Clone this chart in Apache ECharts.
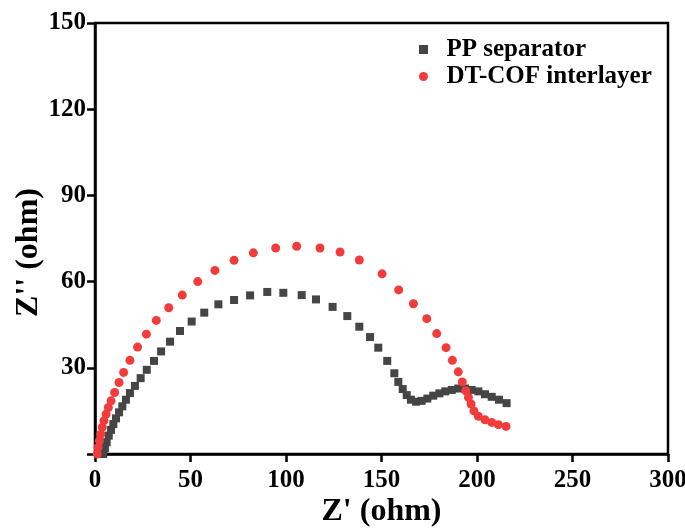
<!DOCTYPE html>
<html><head><meta charset="utf-8">
<script src="https://cdn.jsdelivr.net/npm/echarts@6/dist/echarts.min.js"></script>
<style>html,body{margin:0;padding:0;background:#fff}#c{width:685px;height:531px}</style>
</head><body><div id="c"></div>
<script>
var xTicks = [0, 50, 100, 150, 200, 250, 300];
var yTicks = [0, 30, 60, 90, 120, 150];
var ppX = [4.3,5.2,6.1,7.2,8.4,9.6,11.0,12.6,14.3,16.2,18.3,20.9,23.9,27.1,30.9,34.6,39.3,44.5,50.6,57.2,64.6,72.8,81.2,90.2,98.6,108.2,115.7,124.4,132.1,138.4,144.0,148.3,153.0,156.7,158.8,161.1,163.2,165.4,168.1,171.0,174.0,177.1,180.3,183.4,186.8,190.2,193.7,197.2,200.7,204.2,207.7,211.5,215.5];
var ppY = [0,2.0,4.1,6.4,8.4,10.4,12.4,14.5,16.6,18.9,21.2,23.7,26.4,29.3,32.4,35.7,39.1,42.8,46.1,49.2,52.1,53.6,55.2,56.4,56.1,55.3,53.8,51.2,48.0,44.3,40.7,37.0,32.4,28.1,25.1,22.6,20.5,18.9,18.2,18.5,19.3,20.3,21.1,21.8,22.3,22.8,22.8,22.3,21.8,20.8,19.9,18.9,17.7];
var dtX = [1.2,1.6,2.3,3.0,3.8,4.7,5.8,7.0,8.4,10.3,12.6,15.0,18.3,22.3,26.9,32.1,38.6,45.7,53.8,62.8,72.8,82.9,94.6,105.6,117.8,128.3,138.4,150.3,159.0,166.7,173.7,178.9,183.8,187.1,190.2,192.3,194.1,195.5,196.9,198.4,200.7,204.2,207.7,211.2,215.2];
var dtY = [0,2.3,4.6,6.9,9.3,11.6,13.9,16.2,18.5,21.4,24.9,28.4,32.6,37.2,41.7,46.5,50.9,55.3,60.0,63.9,67.4,70.0,71.7,72.3,71.7,70.3,67.5,62.7,57.1,52.3,47.1,41.9,37.0,32.6,28.6,25.1,22.0,19.7,17.4,15.0,13.1,11.9,11.0,10.2,9.6];
var seriesNames = ['PP separator', 'DT-COF interlayer'];

function pairs(xs, ys) { return xs.map(function (x, i) { return [x, ys[i]]; }); }

var font = 'Liberation Serif';
var sqIcon = 'path://M0,0L1,0L1,1L0,1Z';
var ciIcon = 'path://M1,0.5A0.5,0.5,0,1,1,0,0.5A0.5,0.5,0,1,1,1,0.5Z';
var chart = echarts.init(document.getElementById('c'), null, {renderer: 'canvas'});
chart.setOption({
  animation: false,
  backgroundColor: '#fff',
  grid: {left: 95, right: 17, top: 23, bottom: 77, show: true, borderColor: '#000', borderWidth: 2.5,
         backgroundColor: 'transparent', containLabel: false, outerBoundsMode: 'none'},
  legend: {
    orient: 'vertical', left: 414, top: 32, itemGap: 2, itemWidth: 36, itemHeight: 9,
    symbolKeepAspect: true,
    textStyle: {fontFamily: font, fontWeight: 'bold', fontSize: 25, color: '#000'},
    data: [{name: seriesNames[0], icon: sqIcon, itemStyle: {color: '#454545'}},
           {name: seriesNames[1], icon: ciIcon, itemStyle: {color: '#f23c3c'}}]
  },
  xAxis: {
    type: 'value', min: xTicks[0], max: xTicks[xTicks.length - 1], interval: 50,
    name: "Z' (ohm)", nameLocation: 'middle', nameGap: 42, nameMoveOverlap: false,
    nameTextStyle: {fontFamily: font, fontWeight: 'bold', fontSize: 32, color: '#000'},
    axisLine: {show: true, onZero: false, lineStyle: {color: '#000', width: 2.5}},
    axisTick: {show: true, inside: false, length: 8, lineStyle: {color: '#000', width: 2.5}},
    axisLabel: {fontFamily: font, fontWeight: 'bold', fontSize: 25, color: '#000', margin: 14},
    splitLine: {show: false}
  },
  yAxis: {
    type: 'value', min: yTicks[0], max: yTicks[yTicks.length - 1], interval: 30,
    name: "Z'' (ohm)", nameLocation: 'middle', nameGap: 50, nameMoveOverlap: false,
    nameTextStyle: {fontFamily: font, fontWeight: 'bold', fontSize: 32, color: '#000', padding: [0, 28, 0, 0]},
    axisLine: {show: true, onZero: false, lineStyle: {color: '#000', width: 2.5}},
    axisTick: {show: true, inside: false, length: 8, lineStyle: {color: '#000', width: 2.5}},
    axisLabel: {fontFamily: font, fontWeight: 'bold', fontSize: 25, color: '#000', margin: 9,
      formatter: function (v) { return v === 0 ? '' : v; }},
    splitLine: {show: false}
  },
  series: [
    {name: seriesNames[0], type: 'scatter', symbol: 'rect', symbolSize: 8,
     itemStyle: {color: '#454545', opacity: 1}, data: pairs(ppX, ppY), z: 2},
    {name: seriesNames[1], type: 'scatter', symbol: 'circle', symbolSize: 9,
     itemStyle: {color: '#f23c3c', opacity: 1}, data: pairs(dtX, dtY), z: 3}
  ]
});
</script></body></html>
